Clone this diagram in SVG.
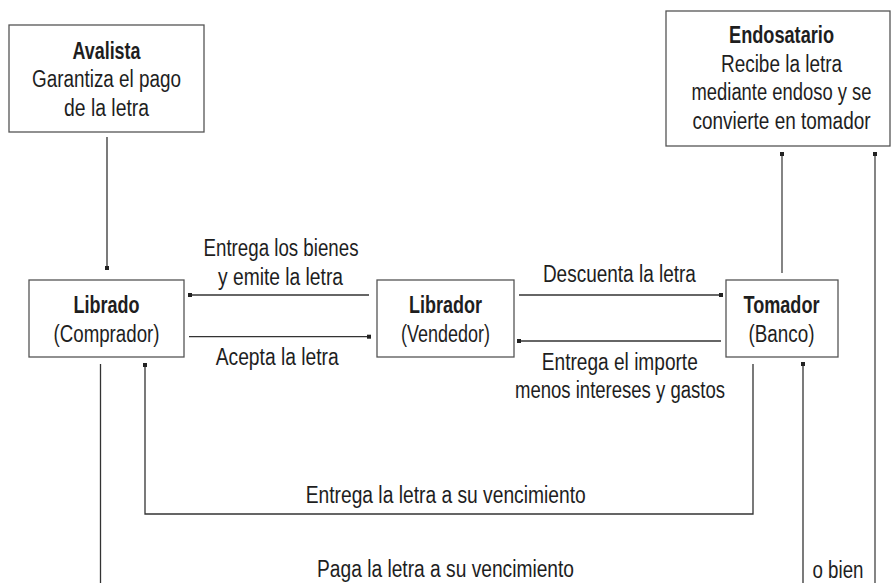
<svg xmlns="http://www.w3.org/2000/svg" width="891" height="583" viewBox="0 0 891 583">
<defs>
<marker id="sq" markerUnits="userSpaceOnUse" markerWidth="5" markerHeight="5" refX="2.5" refY="2.5" viewBox="0 0 5 5"><rect x="0.5" y="0.5" width="4" height="4" fill="#222"/></marker>
</defs>
<style>
.box{fill:#fff;stroke:#555;stroke-width:1.3}
text{font-family:"Liberation Sans",Arial,sans-serif;font-size:23px;fill:#1e1e1e;text-anchor:middle}
.b{font-weight:bold}
.ln{fill:none;stroke:#333;stroke-width:1.3}
.lg{fill:none;stroke:#666;stroke-width:1.6}
</style>
<rect width="891" height="583" fill="#fff"/>
<g id="avalista">
<rect class="box" x="9" y="25" width="195" height="107"/>
<text class="b" x="106.5" y="59" textLength="68" lengthAdjust="spacingAndGlyphs">Avalista</text>
<text x="106.5" y="87" textLength="149" lengthAdjust="spacingAndGlyphs">Garantiza el pago</text>
<text x="106.5" y="116" textLength="85" lengthAdjust="spacingAndGlyphs">de la letra</text>
</g>
<g id="endosatario">
<rect class="box" x="666" y="11" width="224" height="135"/>
<g transform="translate(781.5 0) scale(0.82 1)">
<text class="b" x="0" y="43" textLength="128" lengthAdjust="spacingAndGlyphs">Endosatario</text>
<text x="0" y="72" textLength="147.6" lengthAdjust="spacingAndGlyphs">Recibe la letra</text>
<text x="0" y="100.5" textLength="219.5" lengthAdjust="spacingAndGlyphs">mediante endoso y se</text>
<text x="0" y="129" textLength="217.1" lengthAdjust="spacingAndGlyphs">convierte en tomador</text>
</g>
</g>
<g id="librado">
<rect class="box" x="29" y="280" width="155" height="77"/>
<text class="b" x="106.5" y="312.5" textLength="66" lengthAdjust="spacingAndGlyphs">Librado</text>
<text x="106.5" y="341.5" textLength="106" lengthAdjust="spacingAndGlyphs">(Comprador)</text>
</g>
<g id="librador">
<rect class="box" x="377" y="280" width="137" height="77"/>
<text class="b" x="445.5" y="312.5" textLength="73" lengthAdjust="spacingAndGlyphs">Librador</text>
<text x="445.5" y="341.5" textLength="89" lengthAdjust="spacingAndGlyphs">(Vendedor)</text>
</g>
<g id="tomador">
<rect class="box" x="726" y="280" width="112" height="77"/>
<text class="b" x="781.5" y="312.5" textLength="76" lengthAdjust="spacingAndGlyphs">Tomador</text>
<text x="781.5" y="341.5" textLength="66" lengthAdjust="spacingAndGlyphs">(Banco)</text>
</g>
<g id="connectors">
<path class="ln" d="M107,137 V268" marker-end="url(#sq)"/>
<path class="ln" d="M369,295 H190" marker-end="url(#sq)"/>
<path class="ln" d="M189,336.7 H369" marker-end="url(#sq)"/>
<path class="ln" d="M519,295 H721" marker-end="url(#sq)"/>
<path class="ln" d="M721,341 H519" marker-end="url(#sq)"/>
<path class="lg" d="M782,273 V154" marker-end="url(#sq)"/>
<path class="lg" d="M875,583 V154" marker-end="url(#sq)"/>
<path class="ln" d="M753,364 V514 H145 V365" marker-end="url(#sq)"/>
<path class="ln" d="M803,583 V364" marker-end="url(#sq)"/>
<path class="ln" d="M100.5,364 V583"/>
<text x="281" y="256" textLength="155" lengthAdjust="spacingAndGlyphs">Entrega los bienes</text>
<text x="280.5" y="284.5" textLength="125" lengthAdjust="spacingAndGlyphs">y emite la letra</text>
<text x="277.2" y="365" textLength="123" lengthAdjust="spacingAndGlyphs">Acepta la letra</text>
<text x="619.4" y="282" textLength="153" lengthAdjust="spacingAndGlyphs">Descuenta la letra</text>
<text x="619.8" y="370" textLength="156" lengthAdjust="spacingAndGlyphs">Entrega el importe</text>
<text x="620" y="398" textLength="210" lengthAdjust="spacingAndGlyphs">menos intereses y gastos</text>
<text x="445.7" y="502.5" textLength="280" lengthAdjust="spacingAndGlyphs">Entrega la letra a su vencimiento</text>
<text x="445.5" y="577" textLength="257" lengthAdjust="spacingAndGlyphs">Paga la letra a su vencimiento</text>
<text x="838" y="578" textLength="51" lengthAdjust="spacingAndGlyphs">o bien</text>
</g>
</svg>
